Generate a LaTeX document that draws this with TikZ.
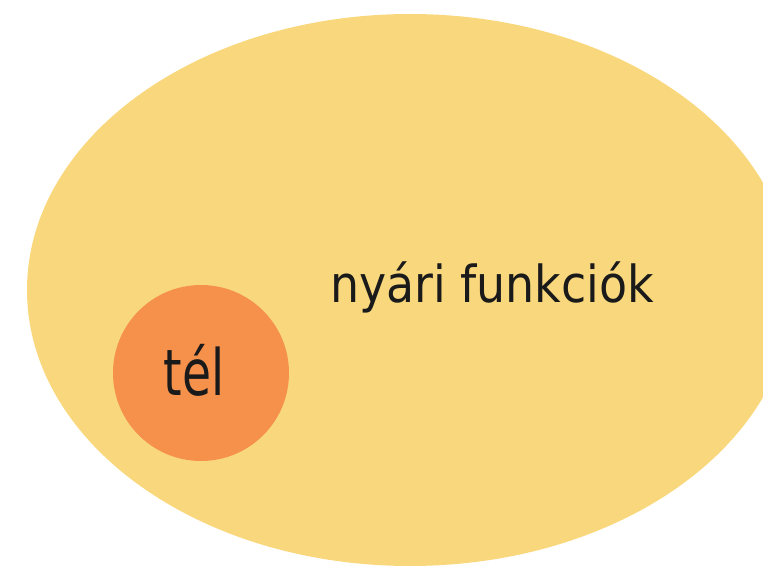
\documentclass[tikz,border=0pt]{standalone}
\usepackage{fontspec}
\setmainfont{DejaVu Sans Condensed}
\usepackage{xcolor}
\usepackage{tikz}
\usetikzlibrary{positioning,shapes.geometric}
\definecolor{summeryellow}{HTML}{F9D87D}
\definecolor{winterorange}{HTML}{F6914C}
\definecolor{labelblack}{HTML}{1A1A1A}
\tikzset{
  bigset/.style={ellipse, fill=summeryellow, inner sep=0pt,
    minimum width=766pt, minimum height=552pt},
  smallset/.style={circle, fill=winterorange, inner sep=0pt,
    minimum size=176pt},
  setlabel/.style={anchor=base, inner sep=0pt, text=labelblack}
}

\begin{document}
\begin{tikzpicture}[x=1pt,y=-1pt]

  \useasboundingbox (0,0) rectangle (763,577);

  \node[bigset] (summer) at (410,290) {};
  \node[smallset] (winter) at (201,373) {};

  \node[setlabel, font=\fontsize{51}{51}\selectfont] (summerlabel) at (492,303) {nyári funkciók};
  \node[setlabel, xscale=0.82, font=\fontsize{64}{64}\selectfont] (winterlabel) at (194,395) {tél};

\end{tikzpicture}
\end{document}
